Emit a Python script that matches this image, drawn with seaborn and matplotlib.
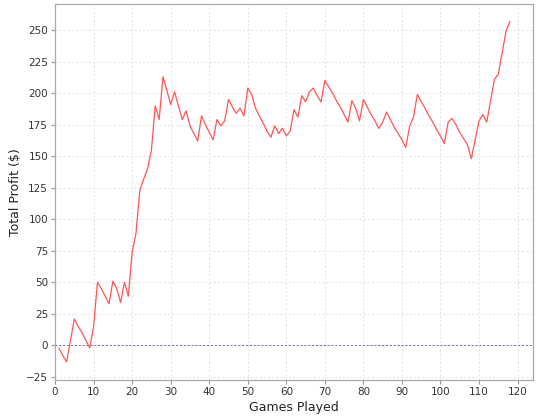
import numpy as np
import pandas as pd
import seaborn as sns
import matplotlib.pyplot as plt

# Data: cumulative profit after each game
games = list(range(1, 119))
profit = [
    -2, -8, -13, 4, 21, 15, 10, 4, -2, 15,
    50, 45, 39, 33, 51, 45, 34, 50, 39, 74,
    89, 123, 132, 140, 155, 190, 179, 213, 202, 191,
    201, 190, 179, 186, 174, 168, 162, 182, 175, 169,
    163, 179, 174, 178, 195, 189, 184, 188, 182, 204,
    199, 188, 182, 176, 170, 165, 174, 168, 172, 166,
    170, 187, 181, 198, 193, 201, 204, 198, 193, 210,
    205, 200, 194, 189, 183, 177, 194, 188, 178, 195,
    189, 183, 178, 172, 177, 185, 179, 173, 168, 163,
    157, 174, 181, 199, 193, 188, 182, 177, 171, 166,
    160, 177, 180, 175, 169, 164, 159, 148, 163, 178,
    183, 177, 194, 211, 215, 232, 249, 257,
]
x_ticks = list(range(0, 121, 10))
y_ticks = list(range(-25, 251, 25))

df = pd.DataFrame({'Games Played': games, 'Total Profit ($)': profit})

sns.set_style('white')
plt.rcParams['font.family'] = ['DejaVu Sans']

fig = plt.figure(figsize=(5.4, 4.2), dpi=100)
ax = fig.add_axes([0.102, 0.095, 0.885, 0.895])

sns.lineplot(data=df, x='Games Played', y='Total Profit ($)', ax=ax,
             color='#ff5555', linewidth=0.9)

# zero baseline
ax.axhline(0, color='#6a6ab8', linewidth=0.7, linestyle=(0, (2, 2)), zorder=1)

ax.set_xlim(0, 124)
ax.set_ylim(-27.5, 270.5)
ax.set_xticks(x_ticks)
ax.set_yticks(y_ticks)
ax.grid(True, color='#dedede', linestyle=(0, (2.5, 2.5)), linewidth=0.6)
ax.set_axisbelow(True)

for s in ax.spines.values():
    s.set_color('#aaaaaa')
    s.set_linewidth(0.9)

ax.tick_params(axis='both', labelsize=7.5, length=3, width=0.8,
               color='#999999', labelcolor='#333333', direction='out',
               bottom=True, left=True, pad=2)
ax.set_xlabel('Games Played', fontsize=9, color='#222222', labelpad=3)
ax.set_ylabel('Total Profit ($)', fontsize=9, color='#222222', labelpad=3)

fig.savefig('out.png', dpi=100)
